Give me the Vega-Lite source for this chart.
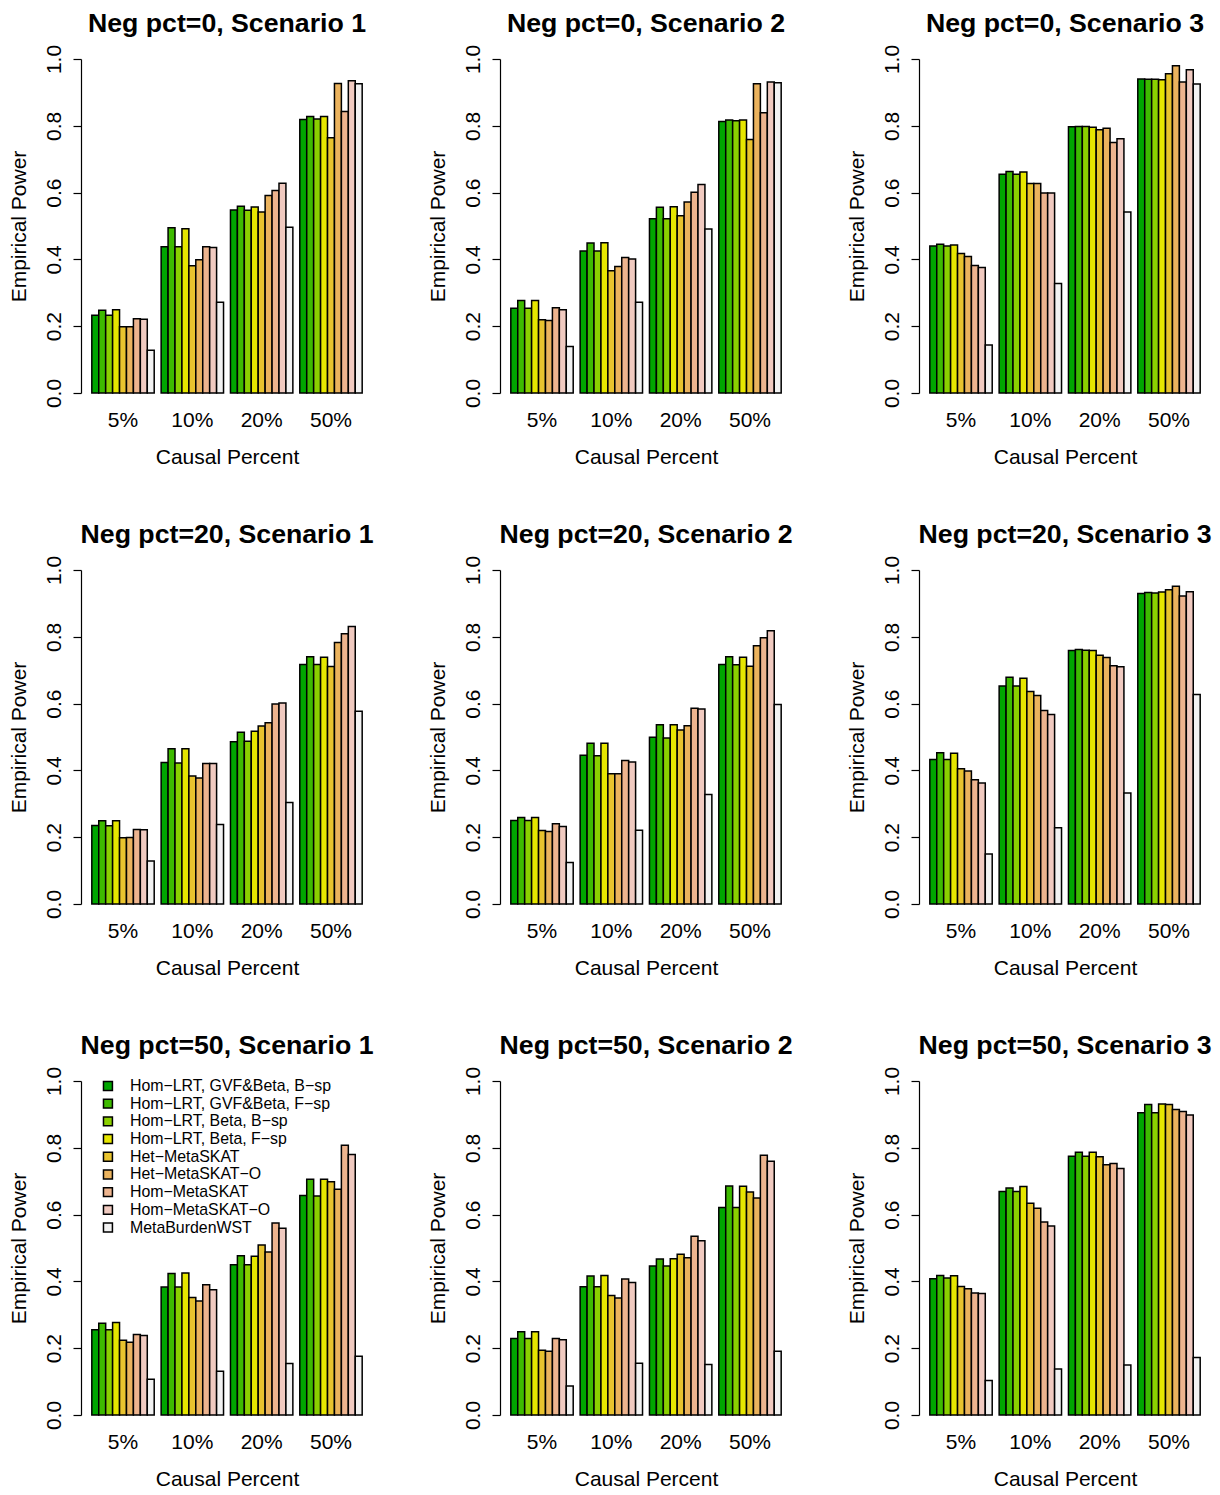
{
 "$schema": "https://vega.github.io/schema/vega-lite/v6.json",
 "padding": {"left": 8, "top": 10, "right": 5, "bottom": 5},
 "background": "white",
 "datasets": {
  "panels": [
   {"p":1,"panel":"Neg pct=0, Scenario 1"},{"p":2,"panel":"Neg pct=0, Scenario 2"},{"p":3,"panel":"Neg pct=0, Scenario 3"},
   {"p":4,"panel":"Neg pct=20, Scenario 1"},{"p":5,"panel":"Neg pct=20, Scenario 2"},{"p":6,"panel":"Neg pct=20, Scenario 3"},
   {"p":7,"panel":"Neg pct=50, Scenario 1"},{"p":8,"panel":"Neg pct=50, Scenario 2"},{"p":9,"panel":"Neg pct=50, Scenario 3"}
  ],
  "methods": [
   {"i":1,"method":"Hom−LRT, GVF&Beta, B−sp"},{"i":2,"method":"Hom−LRT, GVF&Beta, F−sp"},{"i":3,"method":"Hom−LRT, Beta, B−sp"},
   {"i":4,"method":"Hom−LRT, Beta, F−sp"},{"i":5,"method":"Het−MetaSKAT"},{"i":6,"method":"Het−MetaSKAT−O"},
   {"i":7,"method":"Hom−MetaSKAT"},{"i":8,"method":"Hom−MetaSKAT−O"},{"i":9,"method":"MetaBurdenWST"}
  ],
  "power": [
   {"p":1,"c":"5%","i":1,"v":0.233},{"p":1,"c":"5%","i":2,"v":0.248},{"p":1,"c":"5%","i":3,"v":0.233},{"p":1,"c":"5%","i":4,"v":0.249},{"p":1,"c":"5%","i":5,"v":0.198},{"p":1,"c":"5%","i":6,"v":0.198},{"p":1,"c":"5%","i":7,"v":0.222},{"p":1,"c":"5%","i":8,"v":0.221},{"p":1,"c":"5%","i":9,"v":0.128},
   {"p":1,"c":"10%","i":1,"v":0.438},{"p":1,"c":"10%","i":2,"v":0.495},{"p":1,"c":"10%","i":3,"v":0.438},{"p":1,"c":"10%","i":4,"v":0.492},{"p":1,"c":"10%","i":5,"v":0.381},{"p":1,"c":"10%","i":6,"v":0.399},{"p":1,"c":"10%","i":7,"v":0.438},{"p":1,"c":"10%","i":8,"v":0.436},{"p":1,"c":"10%","i":9,"v":0.272},
   {"p":1,"c":"20%","i":1,"v":0.548},{"p":1,"c":"20%","i":2,"v":0.559},{"p":1,"c":"20%","i":3,"v":0.547},{"p":1,"c":"20%","i":4,"v":0.557},{"p":1,"c":"20%","i":5,"v":0.542},{"p":1,"c":"20%","i":6,"v":0.591},{"p":1,"c":"20%","i":7,"v":0.606},{"p":1,"c":"20%","i":8,"v":0.628},{"p":1,"c":"20%","i":9,"v":0.496},
   {"p":1,"c":"50%","i":1,"v":0.819},{"p":1,"c":"50%","i":2,"v":0.828},{"p":1,"c":"50%","i":3,"v":0.820},{"p":1,"c":"50%","i":4,"v":0.828},{"p":1,"c":"50%","i":5,"v":0.764},{"p":1,"c":"50%","i":6,"v":0.927},{"p":1,"c":"50%","i":7,"v":0.843},{"p":1,"c":"50%","i":8,"v":0.935},{"p":1,"c":"50%","i":9,"v":0.926},

   {"p":2,"c":"5%","i":1,"v":0.254},{"p":2,"c":"5%","i":2,"v":0.277},{"p":2,"c":"5%","i":3,"v":0.254},{"p":2,"c":"5%","i":4,"v":0.277},{"p":2,"c":"5%","i":5,"v":0.219},{"p":2,"c":"5%","i":6,"v":0.217},{"p":2,"c":"5%","i":7,"v":0.255},{"p":2,"c":"5%","i":8,"v":0.249},{"p":2,"c":"5%","i":9,"v":0.139},
   {"p":2,"c":"10%","i":1,"v":0.425},{"p":2,"c":"10%","i":2,"v":0.449},{"p":2,"c":"10%","i":3,"v":0.425},{"p":2,"c":"10%","i":4,"v":0.450},{"p":2,"c":"10%","i":5,"v":0.366},{"p":2,"c":"10%","i":6,"v":0.379},{"p":2,"c":"10%","i":7,"v":0.406},{"p":2,"c":"10%","i":8,"v":0.401},{"p":2,"c":"10%","i":9,"v":0.272},
   {"p":2,"c":"20%","i":1,"v":0.522},{"p":2,"c":"20%","i":2,"v":0.556},{"p":2,"c":"20%","i":3,"v":0.522},{"p":2,"c":"20%","i":4,"v":0.558},{"p":2,"c":"20%","i":5,"v":0.531},{"p":2,"c":"20%","i":6,"v":0.572},{"p":2,"c":"20%","i":7,"v":0.601},{"p":2,"c":"20%","i":8,"v":0.624},{"p":2,"c":"20%","i":9,"v":0.491},
   {"p":2,"c":"50%","i":1,"v":0.813},{"p":2,"c":"50%","i":2,"v":0.817},{"p":2,"c":"50%","i":3,"v":0.815},{"p":2,"c":"50%","i":4,"v":0.817},{"p":2,"c":"50%","i":5,"v":0.759},{"p":2,"c":"50%","i":6,"v":0.926},{"p":2,"c":"50%","i":7,"v":0.839},{"p":2,"c":"50%","i":8,"v":0.931},{"p":2,"c":"50%","i":9,"v":0.929},

   {"p":3,"c":"5%","i":1,"v":0.440},{"p":3,"c":"5%","i":2,"v":0.445},{"p":3,"c":"5%","i":3,"v":0.440},{"p":3,"c":"5%","i":4,"v":0.443},{"p":3,"c":"5%","i":5,"v":0.418},{"p":3,"c":"5%","i":6,"v":0.409},{"p":3,"c":"5%","i":7,"v":0.382},{"p":3,"c":"5%","i":8,"v":0.376},{"p":3,"c":"5%","i":9,"v":0.144},
   {"p":3,"c":"10%","i":1,"v":0.655},{"p":3,"c":"10%","i":2,"v":0.663},{"p":3,"c":"10%","i":3,"v":0.655},{"p":3,"c":"10%","i":4,"v":0.662},{"p":3,"c":"10%","i":5,"v":0.627},{"p":3,"c":"10%","i":6,"v":0.627},{"p":3,"c":"10%","i":7,"v":0.599},{"p":3,"c":"10%","i":8,"v":0.599},{"p":3,"c":"10%","i":9,"v":0.328},
   {"p":3,"c":"20%","i":1,"v":0.797},{"p":3,"c":"20%","i":2,"v":0.798},{"p":3,"c":"20%","i":3,"v":0.798},{"p":3,"c":"20%","i":4,"v":0.796},{"p":3,"c":"20%","i":5,"v":0.788},{"p":3,"c":"20%","i":6,"v":0.793},{"p":3,"c":"20%","i":7,"v":0.750},{"p":3,"c":"20%","i":8,"v":0.761},{"p":3,"c":"20%","i":9,"v":0.542},
   {"p":3,"c":"50%","i":1,"v":0.940},{"p":3,"c":"50%","i":2,"v":0.939},{"p":3,"c":"50%","i":3,"v":0.939},{"p":3,"c":"50%","i":4,"v":0.938},{"p":3,"c":"50%","i":5,"v":0.956},{"p":3,"c":"50%","i":6,"v":0.980},{"p":3,"c":"50%","i":7,"v":0.931},{"p":3,"c":"50%","i":8,"v":0.968},{"p":3,"c":"50%","i":9,"v":0.925},

   {"p":4,"c":"5%","i":1,"v":0.235},{"p":4,"c":"5%","i":2,"v":0.249},{"p":4,"c":"5%","i":3,"v":0.234},{"p":4,"c":"5%","i":4,"v":0.249},{"p":4,"c":"5%","i":5,"v":0.198},{"p":4,"c":"5%","i":6,"v":0.199},{"p":4,"c":"5%","i":7,"v":0.223},{"p":4,"c":"5%","i":8,"v":0.222},{"p":4,"c":"5%","i":9,"v":0.129},
   {"p":4,"c":"10%","i":1,"v":0.424},{"p":4,"c":"10%","i":2,"v":0.465},{"p":4,"c":"10%","i":3,"v":0.422},{"p":4,"c":"10%","i":4,"v":0.465},{"p":4,"c":"10%","i":5,"v":0.383},{"p":4,"c":"10%","i":6,"v":0.377},{"p":4,"c":"10%","i":7,"v":0.421},{"p":4,"c":"10%","i":8,"v":0.421},{"p":4,"c":"10%","i":9,"v":0.238},
   {"p":4,"c":"20%","i":1,"v":0.486},{"p":4,"c":"20%","i":2,"v":0.514},{"p":4,"c":"20%","i":3,"v":0.487},{"p":4,"c":"20%","i":4,"v":0.517},{"p":4,"c":"20%","i":5,"v":0.533},{"p":4,"c":"20%","i":6,"v":0.543},{"p":4,"c":"20%","i":7,"v":0.599},{"p":4,"c":"20%","i":8,"v":0.602},{"p":4,"c":"20%","i":9,"v":0.304},
   {"p":4,"c":"50%","i":1,"v":0.717},{"p":4,"c":"50%","i":2,"v":0.740},{"p":4,"c":"50%","i":3,"v":0.717},{"p":4,"c":"50%","i":4,"v":0.739},{"p":4,"c":"50%","i":5,"v":0.711},{"p":4,"c":"50%","i":6,"v":0.783},{"p":4,"c":"50%","i":7,"v":0.809},{"p":4,"c":"50%","i":8,"v":0.831},{"p":4,"c":"50%","i":9,"v":0.577},

   {"p":5,"c":"5%","i":1,"v":0.250},{"p":5,"c":"5%","i":2,"v":0.259},{"p":5,"c":"5%","i":3,"v":0.250},{"p":5,"c":"5%","i":4,"v":0.259},{"p":5,"c":"5%","i":5,"v":0.220},{"p":5,"c":"5%","i":6,"v":0.217},{"p":5,"c":"5%","i":7,"v":0.240},{"p":5,"c":"5%","i":8,"v":0.232},{"p":5,"c":"5%","i":9,"v":0.124},
   {"p":5,"c":"10%","i":1,"v":0.445},{"p":5,"c":"10%","i":2,"v":0.481},{"p":5,"c":"10%","i":3,"v":0.444},{"p":5,"c":"10%","i":4,"v":0.481},{"p":5,"c":"10%","i":5,"v":0.390},{"p":5,"c":"10%","i":6,"v":0.390},{"p":5,"c":"10%","i":7,"v":0.430},{"p":5,"c":"10%","i":8,"v":0.425},{"p":5,"c":"10%","i":9,"v":0.221},
   {"p":5,"c":"20%","i":1,"v":0.499},{"p":5,"c":"20%","i":2,"v":0.537},{"p":5,"c":"20%","i":3,"v":0.497},{"p":5,"c":"20%","i":4,"v":0.537},{"p":5,"c":"20%","i":5,"v":0.521},{"p":5,"c":"20%","i":6,"v":0.534},{"p":5,"c":"20%","i":7,"v":0.586},{"p":5,"c":"20%","i":8,"v":0.584},{"p":5,"c":"20%","i":9,"v":0.328},
   {"p":5,"c":"50%","i":1,"v":0.717},{"p":5,"c":"50%","i":2,"v":0.740},{"p":5,"c":"50%","i":3,"v":0.716},{"p":5,"c":"50%","i":4,"v":0.739},{"p":5,"c":"50%","i":5,"v":0.712},{"p":5,"c":"50%","i":6,"v":0.773},{"p":5,"c":"50%","i":7,"v":0.797},{"p":5,"c":"50%","i":8,"v":0.818},{"p":5,"c":"50%","i":9,"v":0.597},

   {"p":6,"c":"5%","i":1,"v":0.433},{"p":6,"c":"5%","i":2,"v":0.453},{"p":6,"c":"5%","i":3,"v":0.433},{"p":6,"c":"5%","i":4,"v":0.451},{"p":6,"c":"5%","i":5,"v":0.405},{"p":6,"c":"5%","i":6,"v":0.398},{"p":6,"c":"5%","i":7,"v":0.372},{"p":6,"c":"5%","i":8,"v":0.362},{"p":6,"c":"5%","i":9,"v":0.150},
   {"p":6,"c":"10%","i":1,"v":0.653},{"p":6,"c":"10%","i":2,"v":0.679},{"p":6,"c":"10%","i":3,"v":0.653},{"p":6,"c":"10%","i":4,"v":0.676},{"p":6,"c":"10%","i":5,"v":0.636},{"p":6,"c":"10%","i":6,"v":0.624},{"p":6,"c":"10%","i":7,"v":0.579},{"p":6,"c":"10%","i":8,"v":0.567},{"p":6,"c":"10%","i":9,"v":0.228},
   {"p":6,"c":"20%","i":1,"v":0.759},{"p":6,"c":"20%","i":2,"v":0.762},{"p":6,"c":"20%","i":3,"v":0.760},{"p":6,"c":"20%","i":4,"v":0.759},{"p":6,"c":"20%","i":5,"v":0.745},{"p":6,"c":"20%","i":6,"v":0.738},{"p":6,"c":"20%","i":7,"v":0.713},{"p":6,"c":"20%","i":8,"v":0.710},{"p":6,"c":"20%","i":9,"v":0.332},
   {"p":6,"c":"50%","i":1,"v":0.930},{"p":6,"c":"50%","i":2,"v":0.933},{"p":6,"c":"50%","i":3,"v":0.931},{"p":6,"c":"50%","i":4,"v":0.934},{"p":6,"c":"50%","i":5,"v":0.941},{"p":6,"c":"50%","i":6,"v":0.951},{"p":6,"c":"50%","i":7,"v":0.922},{"p":6,"c":"50%","i":8,"v":0.935},{"p":6,"c":"50%","i":9,"v":0.627},

   {"p":7,"c":"5%","i":1,"v":0.255},{"p":7,"c":"5%","i":2,"v":0.275},{"p":7,"c":"5%","i":3,"v":0.255},{"p":7,"c":"5%","i":4,"v":0.277},{"p":7,"c":"5%","i":5,"v":0.224},{"p":7,"c":"5%","i":6,"v":0.218},{"p":7,"c":"5%","i":7,"v":0.241},{"p":7,"c":"5%","i":8,"v":0.238},{"p":7,"c":"5%","i":9,"v":0.107},
   {"p":7,"c":"10%","i":1,"v":0.383},{"p":7,"c":"10%","i":2,"v":0.424},{"p":7,"c":"10%","i":3,"v":0.383},{"p":7,"c":"10%","i":4,"v":0.425},{"p":7,"c":"10%","i":5,"v":0.352},{"p":7,"c":"10%","i":6,"v":0.341},{"p":7,"c":"10%","i":7,"v":0.390},{"p":7,"c":"10%","i":8,"v":0.375},{"p":7,"c":"10%","i":9,"v":0.131},
   {"p":7,"c":"20%","i":1,"v":0.450},{"p":7,"c":"20%","i":2,"v":0.477},{"p":7,"c":"20%","i":3,"v":0.450},{"p":7,"c":"20%","i":4,"v":0.475},{"p":7,"c":"20%","i":5,"v":0.509},{"p":7,"c":"20%","i":6,"v":0.488},{"p":7,"c":"20%","i":7,"v":0.575},{"p":7,"c":"20%","i":8,"v":0.559},{"p":7,"c":"20%","i":9,"v":0.154},
   {"p":7,"c":"50%","i":1,"v":0.657},{"p":7,"c":"50%","i":2,"v":0.706},{"p":7,"c":"50%","i":3,"v":0.656},{"p":7,"c":"50%","i":4,"v":0.706},{"p":7,"c":"50%","i":5,"v":0.698},{"p":7,"c":"50%","i":6,"v":0.676},{"p":7,"c":"50%","i":7,"v":0.808},{"p":7,"c":"50%","i":8,"v":0.780},{"p":7,"c":"50%","i":9,"v":0.176},

   {"p":8,"c":"5%","i":1,"v":0.229},{"p":8,"c":"5%","i":2,"v":0.249},{"p":8,"c":"5%","i":3,"v":0.229},{"p":8,"c":"5%","i":4,"v":0.249},{"p":8,"c":"5%","i":5,"v":0.194},{"p":8,"c":"5%","i":6,"v":0.191},{"p":8,"c":"5%","i":7,"v":0.229},{"p":8,"c":"5%","i":8,"v":0.225},{"p":8,"c":"5%","i":9,"v":0.087},
   {"p":8,"c":"10%","i":1,"v":0.384},{"p":8,"c":"10%","i":2,"v":0.416},{"p":8,"c":"10%","i":3,"v":0.384},{"p":8,"c":"10%","i":4,"v":0.418},{"p":8,"c":"10%","i":5,"v":0.358},{"p":8,"c":"10%","i":6,"v":0.350},{"p":8,"c":"10%","i":7,"v":0.407},{"p":8,"c":"10%","i":8,"v":0.397},{"p":8,"c":"10%","i":9,"v":0.155},
   {"p":8,"c":"20%","i":1,"v":0.446},{"p":8,"c":"20%","i":2,"v":0.467},{"p":8,"c":"20%","i":3,"v":0.446},{"p":8,"c":"20%","i":4,"v":0.468},{"p":8,"c":"20%","i":5,"v":0.481},{"p":8,"c":"20%","i":6,"v":0.471},{"p":8,"c":"20%","i":7,"v":0.535},{"p":8,"c":"20%","i":8,"v":0.522},{"p":8,"c":"20%","i":9,"v":0.151},
   {"p":8,"c":"50%","i":1,"v":0.621},{"p":8,"c":"50%","i":2,"v":0.686},{"p":8,"c":"50%","i":3,"v":0.621},{"p":8,"c":"50%","i":4,"v":0.685},{"p":8,"c":"50%","i":5,"v":0.668},{"p":8,"c":"50%","i":6,"v":0.650},{"p":8,"c":"50%","i":7,"v":0.778},{"p":8,"c":"50%","i":8,"v":0.760},{"p":8,"c":"50%","i":9,"v":0.191},

   {"p":9,"c":"5%","i":1,"v":0.408},{"p":9,"c":"5%","i":2,"v":0.418},{"p":9,"c":"5%","i":3,"v":0.410},{"p":9,"c":"5%","i":4,"v":0.417},{"p":9,"c":"5%","i":5,"v":0.385},{"p":9,"c":"5%","i":6,"v":0.378},{"p":9,"c":"5%","i":7,"v":0.365},{"p":9,"c":"5%","i":8,"v":0.364},{"p":9,"c":"5%","i":9,"v":0.103},
   {"p":9,"c":"10%","i":1,"v":0.669},{"p":9,"c":"10%","i":2,"v":0.680},{"p":9,"c":"10%","i":3,"v":0.669},{"p":9,"c":"10%","i":4,"v":0.684},{"p":9,"c":"10%","i":5,"v":0.634},{"p":9,"c":"10%","i":6,"v":0.619},{"p":9,"c":"10%","i":7,"v":0.578},{"p":9,"c":"10%","i":8,"v":0.566},{"p":9,"c":"10%","i":9,"v":0.138},
   {"p":9,"c":"20%","i":1,"v":0.775},{"p":9,"c":"20%","i":2,"v":0.787},{"p":9,"c":"20%","i":3,"v":0.775},{"p":9,"c":"20%","i":4,"v":0.787},{"p":9,"c":"20%","i":5,"v":0.773},{"p":9,"c":"20%","i":6,"v":0.749},{"p":9,"c":"20%","i":7,"v":0.753},{"p":9,"c":"20%","i":8,"v":0.738},{"p":9,"c":"20%","i":9,"v":0.150},
   {"p":9,"c":"50%","i":1,"v":0.905},{"p":9,"c":"50%","i":2,"v":0.930},{"p":9,"c":"50%","i":3,"v":0.905},{"p":9,"c":"50%","i":4,"v":0.931},{"p":9,"c":"50%","i":5,"v":0.930},{"p":9,"c":"50%","i":6,"v":0.915},{"p":9,"c":"50%","i":7,"v":0.909},{"p":9,"c":"50%","i":8,"v":0.898},{"p":9,"c":"50%","i":9,"v":0.172}
  ]
 },
 "data": {"name": "power"},
 "transform": [
  {"lookup": "p", "from": {"data": {"name": "panels"}, "key": "p", "fields": ["panel"]}},
  {"lookup": "i", "from": {"data": {"name": "methods"}, "key": "i", "fields": ["method"]}}
 ],
 "facet": {
  "field": "panel", "type": "nominal",
  "sort": ["Neg pct=0, Scenario 1","Neg pct=0, Scenario 2","Neg pct=0, Scenario 3","Neg pct=20, Scenario 1","Neg pct=20, Scenario 2","Neg pct=20, Scenario 3","Neg pct=50, Scenario 1","Neg pct=50, Scenario 2","Neg pct=50, Scenario 3"],
  "header": {"title": null, "labelFont": "Liberation Sans", "labelFontSize": 26.7, "labelFontWeight": "bold", "labelColor": "black", "labelPadding": 7}
 },
 "columns": 3,
 "bounds": "flush",
 "spacing": {"row": 177, "column": 127},
 "resolve": {"axis": {"x": "independent", "y": "independent"}},
 "spec": {
  "width": 292,
  "height": 334,
  "mark": {"type": "bar", "stroke": "black", "strokeWidth": 1.5},
  "encoding": {
   "x": {
    "field": "c", "type": "nominal", "sort": ["5%","10%","20%","50%"],
    "scale": {"paddingInner": 0.1, "paddingOuter": 0.156},
    "axis": {"title": "Causal Percent", "labelAngle": 0, "domain": false, "ticks": false, "tickSize": 0, "labelPadding": 16, "labelFontSize": 21, "titleFontSize": 21, "titlePadding": 16}
   },
   "xOffset": {
    "field": "method", "type": "nominal",
    "sort": ["Hom−LRT, GVF&Beta, B−sp","Hom−LRT, GVF&Beta, F−sp","Hom−LRT, Beta, B−sp","Hom−LRT, Beta, F−sp","Het−MetaSKAT","Het−MetaSKAT−O","Hom−MetaSKAT","Hom−MetaSKAT−O","MetaBurdenWST"],
    "scale": {"paddingInner": 0, "paddingOuter": 0}
   },
   "y": {
    "field": "v", "type": "quantitative",
    "scale": {"domain": [0, 1], "nice": false},
    "axis": {"title": "Empirical Power", "values": [0, 0.2, 0.4, 0.6, 0.8, 1], "format": ".1f", "labelAngle": -90, "labelAlign": "center", "labelBaseline": "bottom", "tickSize": 8, "labelPadding": 9, "labelFontSize": 21, "titleFontSize": 21, "titlePadding": 14, "grid": false}
   },
   "color": {
    "field": "method", "type": "nominal",
    "sort": ["Hom−LRT, GVF&Beta, B−sp","Hom−LRT, GVF&Beta, F−sp","Hom−LRT, Beta, B−sp","Hom−LRT, Beta, F−sp","Het−MetaSKAT","Het−MetaSKAT−O","Hom−MetaSKAT","Hom−MetaSKAT−O","MetaBurdenWST"],
    "scale": {
     "domain": ["Hom−LRT, GVF&Beta, B−sp","Hom−LRT, GVF&Beta, F−sp","Hom−LRT, Beta, B−sp","Hom−LRT, Beta, F−sp","Het−MetaSKAT","Het−MetaSKAT−O","Hom−MetaSKAT","Hom−MetaSKAT−O","MetaBurdenWST"],
     "range": ["#00A600","#3EBB00","#8BD000","#E6E600","#E8C32E","#EBB35E","#EDB48E","#F0CAC0","#F2F2F2"]
    },
    "legend": {"title": null, "orient": "none", "legendX": 19, "legendY": 1019, "padding": 0, "symbolType": "square", "symbolSize": 80, "symbolStrokeColor": "black", "symbolStrokeWidth": 1.5, "symbolOpacity": 1, "labelFontSize": 15.9, "labelOffset": 14, "labelLimit": 400, "rowPadding": 0.7, "labelColor": "black", "labelFont": "Liberation Sans"}
   }
  }
 },
 "config": {
  "font": "Liberation Sans",
  "view": {"stroke": null},
  "axis": {"labelColor": "black", "titleColor": "black", "tickColor": "black", "domainColor": "black", "titleFontWeight": "normal", "labelFont": "Liberation Sans", "titleFont": "Liberation Sans", "domainWidth": 1.2, "tickWidth": 1.2}
 }
}
